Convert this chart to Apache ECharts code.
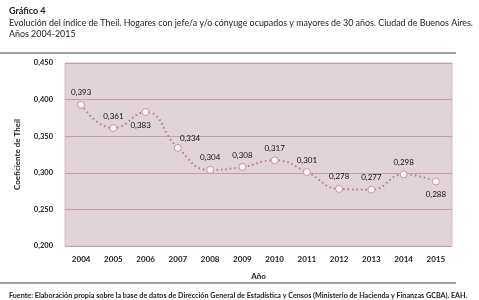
<!DOCTYPE html>
<html>
<head>
<meta charset="utf-8">
<script src="https://cdn.jsdelivr.net/npm/echarts@6/dist/echarts.min.js"></script>
<style>
  html, body { margin: 0; padding: 0; background: #fff; }
  #chart { width: 479px; height: 300px; }
</style>
</head>
<body>
<div id="chart"></div>
<script>
const years = ['2004', '2005', '2006', '2007', '2008', '2009', '2010', '2011', '2012', '2013', '2014', '2015'];
const theil = [0.393, 0.361, 0.383, 0.334, 0.304, 0.308, 0.317, 0.301, 0.278, 0.277, 0.298, 0.288];
// posición de cada etiqueta como en el original
const labelPos = ['top', 'top', 'bottomLeft', 'topRight', 'top', 'top', 'top', 'top', 'top', 'top', 'top', 'bottom'];

const FONT = 'Lato';
const chart = echarts.init(document.getElementById('chart'));

const fmt = v => v.toFixed(3).replace('.', ',');

function labelFor(pos) {
    if (pos === 'bottomLeft') return { position: [-1, 13], align: 'center' };
    if (pos === 'topRight') return { position: [6, -9], align: 'left' };
    if (pos === 'bottom') return { position: 'bottom', distance: 5 };
    return { position: 'top', distance: 4 };
}

chart.setOption({
    animation: false,
    textStyle: { fontFamily: FONT },
    title: [
        { text: 'Gráfico 4', left: 4, top: 2,
          textStyle: { fontSize: 9, fontWeight: 'bold', color: '#222', fontFamily: FONT } },
        { text: 'Evolución del índice de Theil. Hogares con jefe/a y/o cónyuge ocupados y mayores de 30 años. Ciudad de Buenos Aires.\nAños 2004-2015',
          left: 4, top: 13,
          textStyle: { fontSize: 8.9, fontWeight: 'normal', color: '#222', lineHeight: 11, fontFamily: FONT } },
        { text: 'Fuente: Elaboración propia sobre la base de datos de Dirección General de Estadística y Censos (Ministerio de Hacienda y Finanzas GCBA). EAH.',
          left: 4, top: 287,
          textStyle: { fontSize: 7.2, fontWeight: 'bold', color: '#222', fontFamily: FONT } }
    ],
    graphic: [
        { type: 'line', shape: { x1: 0, y1: 53, x2: 456, y2: 53 }, style: { stroke: '#4a4040', lineWidth: 1 } },
        { type: 'line', shape: { x1: 0, y1: 283, x2: 456, y2: 283 }, style: { stroke: '#4a4040', lineWidth: 1 } }
    ],
    grid: { left: 65, right: 27, top: 63, bottom: 54, show: true,
            backgroundColor: '#e0d4d8', borderColor: '#d6b9c3', borderWidth: 1 },
    xAxis: {
        type: 'category', data: years, boundaryGap: true,
        name: 'Año', nameLocation: 'middle', nameGap: 26,
        nameTextStyle: { fontSize: 8, fontWeight: 'bold', color: '#222' },
        axisLine: { show: false }, axisTick: { show: false },
        axisLabel: { fontSize: 8, fontWeight: 'bold', color: '#222', margin: 9 }
    },
    yAxis: {
        type: 'value', min: 0.2, max: 0.45, interval: 0.05,
        name: 'Coeficiente de Theil', nameLocation: 'middle', nameGap: 44, nameRotate: 90,
        nameTextStyle: { fontSize: 8, fontWeight: 'bold', color: '#222' },
        axisLine: { show: false }, axisTick: { show: false },
        axisLabel: { fontSize: 7.5, fontWeight: 'bold', color: '#222', margin: 12, formatter: fmt },
        splitLine: { lineStyle: { color: '#c99cab', width: 1 } }
    },
    series: [{
        type: 'line', smooth: 0.5,
        data: theil.map((v, i) => ({ value: v, label: labelFor(labelPos[i]) })),
        symbol: 'circle', symbolSize: 7,
        lineStyle: { color: '#b67890', width: 2, type: [1.5, 3] },
        itemStyle: { color: '#fbf5f7', borderColor: '#c994a6', borderWidth: 1 },
        label: { show: true, fontSize: 8, color: '#111', formatter: p => fmt(p.value) }
    }]
});
</script>
</body>
</html>
